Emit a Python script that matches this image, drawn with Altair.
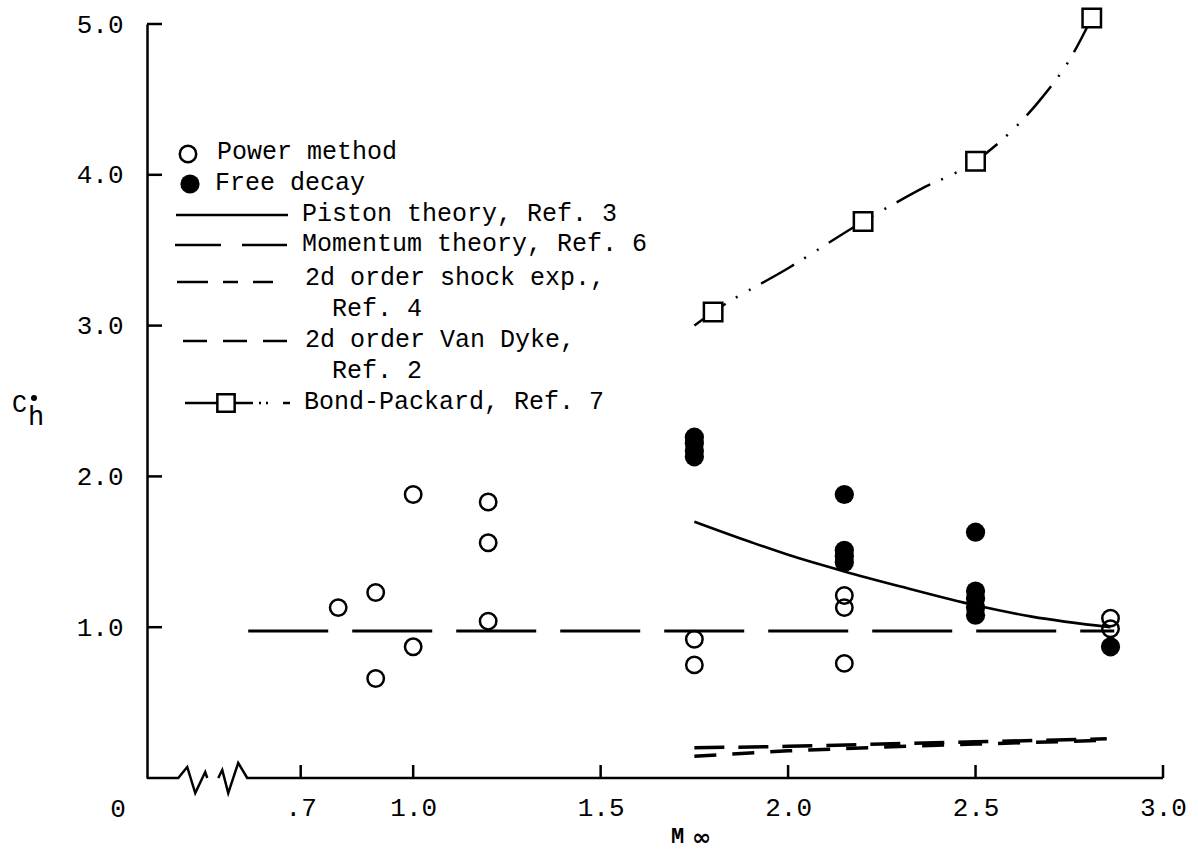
import altair as alt
import pandas as pd

# ---------------- data ----------------
# Power method (open circles)
power_M = [0.8, 0.9, 0.9, 1.0, 1.0, 1.2, 1.2, 1.2, 1.75, 1.75, 2.15, 2.15, 2.15, 2.86, 2.86]
power_Ch = [1.13, 1.23, 0.66, 1.88, 0.87, 1.83, 1.56, 1.04, 0.92, 0.75, 1.21, 1.13, 0.76, 1.06, 0.99]

# Free decay (filled circles)
free_M = [1.75, 1.75, 1.75, 1.75, 2.15, 2.15, 2.15, 2.15, 2.5, 2.5, 2.5, 2.5, 2.5, 2.86]
free_Ch = [2.26, 2.22, 2.17, 2.13, 1.88, 1.51, 1.47, 1.43, 1.63, 1.24, 1.19, 1.13, 1.08, 0.87]

# Piston theory, Ref. 3
piston_M = [1.75, 1.9, 2.0, 2.15, 2.3, 2.5, 2.65, 2.86]
piston_Ch = [1.70, 1.565, 1.48, 1.37, 1.27, 1.145, 1.07, 1.00]

# Momentum theory, Ref. 6
momentum_M = [0.56, 2.87]
momentum_Ch = [0.975, 0.975]

# 2d order shock expansion, Ref. 4
shock_M = [1.75, 2.0, 2.25, 2.5, 2.85]
shock_Ch = [0.20, 0.21, 0.225, 0.24, 0.26]

# 2d order Van Dyke, Ref. 2
vandyke_M = [1.75, 2.0, 2.25, 2.5, 2.85]
vandyke_Ch = [0.145, 0.18, 0.205, 0.225, 0.25]

# Bond-Packard, Ref. 7
bond_curve_M = [1.75, 1.8, 2.0, 2.2, 2.35, 2.5, 2.6, 2.68, 2.75, 2.81]
bond_curve_Ch = [3.0, 3.09, 3.38, 3.69, 3.90, 4.09, 4.30, 4.52, 4.76, 5.04]
bond_sq_M = [1.8, 2.2, 2.5, 2.81]
bond_sq_Ch = [3.09, 3.69, 4.09, 5.04]

# axis ticks
x_ticks = [0.7, 1.0, 1.5, 2.0, 2.5, 3.0]
y_ticks = [1, 2, 3, 4, 5]

# broken x axis line (two parts with zigzag break)
break_part = [0, 0, 0, 0, 0, 0, 1, 1, 1, 1, 1, 1]
break_M = [0.29, 0.3733, 0.3973, 0.4187, 0.4453, 0.4507, 0.48, 0.4907, 0.5067, 0.5333, 0.5573, 3.0]
break_Ch = [0, 0, 0.073, -0.10, 0.04, 0, 0, 0.053, -0.10, 0.10, 0, 0]

# ---------------- chart ----------------
FONT = "Liberation Mono"
X_DOMAIN = [0.29, 3.0]
W, H = 1016, 754
TS = 25  # text size


def df(m, c, **extra):
    d = {"M": m, "Ch": c}
    d.update(extra)
    return pd.DataFrame(d)


xaxis = alt.Axis(values=x_ticks,
                 labelExpr="datum.value == 0.7 ? '.7' : format(datum.value, '.1f')",
                 domain=False, ticks=False, grid=False, title=None,
                 labelFont=FONT, labelFontSize=26, labelColor="black",
                 labelPadding=16, labelFlush=False, labelOverlap=False)
yaxis = alt.Axis(values=y_ticks, format=".1f", domain=True, domainColor="black",
                 domainWidth=2.5, ticks=False, grid=False, title=None,
                 labelFont=FONT, labelFontSize=26, labelColor="black",
                 labelPadding=24, labelFlush=False, labelOverlap=False)

X = alt.X("M:Q", scale=alt.Scale(domain=X_DOMAIN, nice=False, zero=False), axis=xaxis)
Y = alt.Y("Ch:Q", scale=alt.Scale(domain=[0, 5], nice=False, zero=False), axis=yaxis)

layers = []

# axis line with break
layers.append(alt.Chart(df(break_M, break_Ch, part=break_part)).mark_line(
    color="black", strokeWidth=2.5, clip=False).encode(x=X, y=Y, detail="part:N", order="idx:Q")
    .transform_window(idx="row_number()"))

# inward ticks
layers.append(alt.Chart(pd.DataFrame({"M": x_ticks})).mark_rule(color="black", strokeWidth=2.5)
              .encode(x=X, y=alt.value(H), y2=alt.value(H - 13)))
layers.append(alt.Chart(pd.DataFrame({"Ch": y_ticks})).mark_rule(color="black", strokeWidth=2.5)
              .encode(y=Y, x=alt.value(0), x2=alt.value(15)))

# theory curves
layers.append(alt.Chart(df(momentum_M, momentum_Ch)).mark_line(
    color="black", strokeWidth=3, strokeDash=[80, 24]).encode(x=X, y=Y))
layers.append(alt.Chart(df(piston_M, piston_Ch)).mark_line(
    color="black", strokeWidth=2.6, interpolate="monotone").encode(x=X, y=Y))
layers.append(alt.Chart(df(shock_M, shock_Ch)).mark_line(
    color="black", strokeWidth=3.5, strokeDash=[30, 14]).encode(x=X, y=Y))
layers.append(alt.Chart(df(vandyke_M, vandyke_Ch)).mark_line(
    color="black", strokeWidth=3.5, strokeDash=[22, 16]).encode(x=X, y=Y))
layers.append(alt.Chart(df(bond_curve_M, bond_curve_Ch)).mark_line(
    color="black", strokeWidth=2.5, interpolate="monotone",
    strokeDash=[38, 12, 2, 13, 2, 12]).encode(x=X, y=Y))
layers.append(alt.Chart(df(bond_sq_M, bond_sq_Ch)).mark_point(
    shape="square", size=340, filled=True, fill="white", stroke="black",
    strokeWidth=2.5, opacity=1, fillOpacity=1).encode(x=X, y=Y))

# experimental points
layers.append(alt.Chart(df(power_M, power_Ch)).mark_point(
    shape="circle", size=270, filled=False, stroke="black", strokeWidth=2.5,
    opacity=1).encode(x=X, y=Y))
layers.append(alt.Chart(df(free_M, free_Ch)).mark_point(
    shape="circle", size=370, filled=True, color="black", opacity=1).encode(x=X, y=Y))

# ---------------- legend (drawn, pixel positions) ----------------
one = pd.DataFrame({"k": [0]})


def txt(s, px, py, size=TS, align="left", baseline="middle", font=FONT, weight="normal"):
    return alt.Chart(one).mark_text(text=s, align=align, baseline=baseline, font=font,
                                    fontSize=size, fontWeight=weight, color="black").encode(
        x=alt.value(px), y=alt.value(py))


def seg(x1, x2, py, dash=None, width=2.5):
    kw = dict(color="black", strokeWidth=width)
    if dash:
        kw["strokeDash"] = dash
    return alt.Chart(one).mark_rule(**kw).encode(x=alt.value(x1), x2=alt.value(x2), y=alt.value(py))


layers.append(alt.Chart(one).mark_point(shape="circle", size=270, filled=False, stroke="black",
                                        strokeWidth=2.5, opacity=1)
              .encode(x=alt.value(41), y=alt.value(130)))
layers.append(alt.Chart(one).mark_point(shape="circle", size=370, filled=True, color="black",
                                        opacity=1)
              .encode(x=alt.value(43), y=alt.value(160)))
layers.append(txt("Power method", 70, 127))
layers.append(txt("Free decay", 68, 158))

layers.append(seg(29, 141, 191))
layers.append(txt("Piston theory, Ref. 3", 155, 189))
layers.append(seg(28, 140, 221, dash=[46, 21]))
layers.append(txt("Momentum theory, Ref. 6", 155, 219))
layers.append(seg(30, 128, 258, dash=[31, 15, 15, 15, 20, 15]))
layers.append(txt("2d  order shock exp.,", 158, 253))
layers.append(txt("Ref. 4", 185, 284))
layers.append(seg(36, 140, 317, dash=[24, 16]))
layers.append(txt("2d  order Van Dyke,", 158, 315))
layers.append(txt("Ref. 2", 185, 346))
layers.append(seg(38, 106, 379))
layers.append(seg(112, 143, 379, dash=[2, 5, 2, 15, 7, 100]))
layers.append(alt.Chart(one).mark_point(shape="square", size=300, filled=True, fill="white",
                                        stroke="black", strokeWidth=2.5, opacity=1, fillOpacity=1)
              .encode(x=alt.value(79), y=alt.value(379)))
layers.append(txt("Bond-Packard, Ref. 7", 157, 377))

# ---------------- axis titles and origin label ----------------
layers.append(txt("C", -135, 388, size=25, baseline="alphabetic"))
layers.append(txt("h", -119, 401, size=27, baseline="alphabetic"))
layers.append(alt.Chart(one).mark_point(shape="circle", size=36, filled=True, color="black",
                                        opacity=1).encode(x=alt.value(-113), y=alt.value(374)))
layers.append(txt("M", 524, 819, size=22, baseline="alphabetic", weight="bold"))
layers.append(txt("\u221e", 545, 814, size=23, baseline="middle", font="DejaVu Sans",
                  weight="bold"))
layers.append(txt("0", -29, 785, size=26, align="center"))

chart = alt.layer(*layers).properties(
    width=W, height=H,
    autosize=alt.AutoSizeParams(type="none"),
    padding={"left": 147, "top": 24, "right": 35, "bottom": 74},
    background="white",
).configure_view(stroke=None)

chart.save("out.html", embed_options={"renderer": "svg", "actions": False})
